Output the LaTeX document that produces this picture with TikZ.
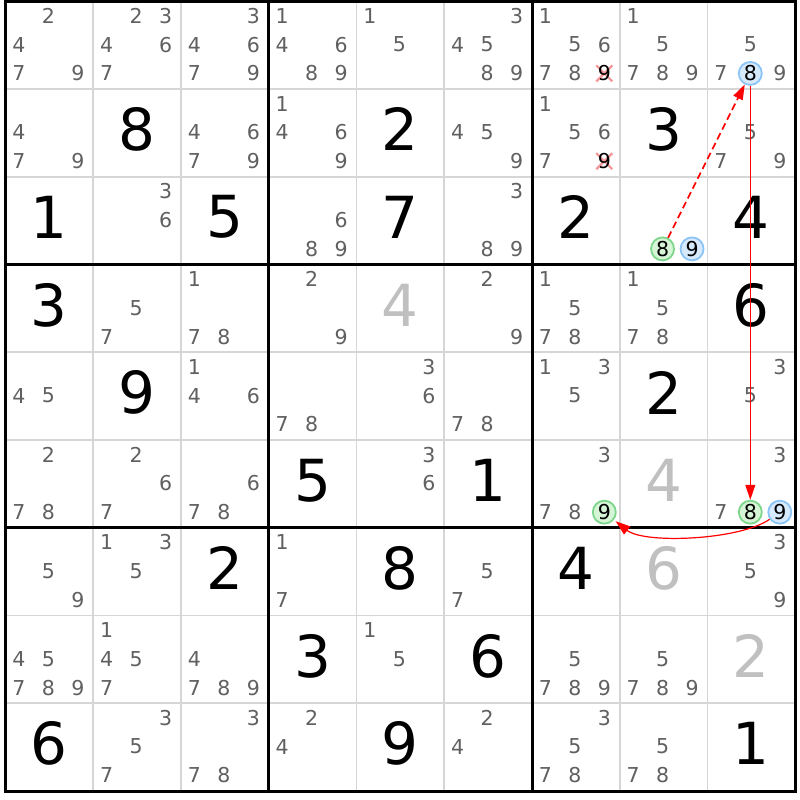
\documentclass[tikz,border=0pt]{standalone}
\usepackage{fontspec}
\setmainfont{DejaVu Sans}
\usetikzlibrary{arrows.meta}
\definecolor{candgray}{RGB}{96,96,96}
\definecolor{solvedgray}{RGB}{192,192,192}
\definecolor{gridgray}{RGB}{214,214,214}
\definecolor{bluefill}{RGB}{214,234,252}
\definecolor{bluedraw}{RGB}{140,196,246}
\definecolor{greenfill}{RGB}{214,244,214}
\definecolor{greendraw}{RGB}{126,214,140}
\definecolor{xpink}{RGB}{244,150,150}
\newcommand\SKpos[3]{%
  \pgfmathsetmacro\px{5.5+(#2-1)*87.75+13.3+29.5*mod(#3-1,3)}%
  \pgfmathsetmacro\py{1.3+(#1-1)*87.75+14.5+28.8*floor((#3-1)/3)}}
\tikzset{
  thinline/.style={draw=gridgray,line width=1.8pt},
  thickline/.style={draw=black,line width=3pt},
  bigdigit/.style={inner sep=0pt,text=black,font=\fontsize{58}{58}\selectfont},
  solved/.style={bigdigit,text=solvedgray},
  cand/.style={inner sep=0pt,text=candgray,font=\fontsize{20.5}{20.5}\selectfont},
  hlblue/.style={cand,circle,minimum size=23pt,line width=1.8pt,draw=bluedraw,fill=bluefill,text=black},
  hlgreen/.style={cand,circle,minimum size=23pt,line width=1.8pt,draw=greendraw,fill=greenfill,text=black},
  xmark/.style={draw=xpink,line width=2.2pt},
  chain/.style={draw=red,line width=1pt,-{Triangle[length=15pt,width=10pt]}},
  weak/.style={draw=red,line width=1.6pt,dash pattern=on 7pt off 4pt,-{Triangle[length=15pt,width=10pt]}},
}
\begin{document}
\begin{tikzpicture}[x=1pt,y=-1pt]
\useasboundingbox (0,0) rectangle (800,800);
\fill[white] (0,0) rectangle (800,800);
% thin grid lines
\foreach \i in {1,2,4,5,7,8}{
  \draw[thinline] ({5.5+\i*87.75},1.3) -- ({5.5+\i*87.75},790.5);
  \draw[thinline] (5.5,{1.3+\i*87.75}) -- (795.3,{1.3+\i*87.75});
}
% thick box lines
\foreach \i in {0,3,6,9}{
  \draw[thickline] ({5.5+\i*87.75},-0.2) -- ({5.5+\i*87.75},792);
  \draw[thickline] (4,{1.3+\i*87.75}) -- (796.8,{1.3+\i*87.75});
}
% givens
\foreach \r/\c/\d in {2/2/8,2/5/2,2/8/3,3/1/1,3/3/5,3/5/7,3/7/2,3/9/4,4/1/3,4/9/6,5/2/9,5/8/2,6/4/5,6/6/1,7/3/2,7/5/8,7/7/4,8/4/3,8/6/6,9/1/6,9/5/9,9/9/1}{
  \node[bigdigit] (g\r\c) at ({5.5+(\c-0.5)*87.75},{1.3+(\r-0.5)*87.75-3.5}) {\d};
}
% solved (gray)
\foreach \r/\c/\d in {4/5/4,6/8/4,7/8/6,8/9/2}{
  \node[solved] (g\r\c) at ({5.5+(\c-0.5)*87.75},{1.3+(\r-0.5)*87.75-3.5}) {\d};
}
% candidates
\foreach \r/\c/\L in {
  1/1/{2,4,7,9},1/2/{2,3,4,6,7},1/3/{3,4,6,7,9},1/4/{1,4,6,8,9},1/5/{1,5},
  1/6/{3,4,5,8,9},1/7/{1,5,6,7,8},1/8/{1,5,7,8,9},1/9/{5,7,9},
  2/1/{4,7,9},2/3/{4,6,7,9},2/4/{1,4,6,9},2/6/{4,5,9},2/7/{1,5,6,7},2/9/{5,7,9},
  3/2/{3,6},3/4/{6,8,9},3/6/{3,8,9},
  4/2/{5,7},4/3/{1,7,8},4/4/{2,9},4/6/{2,9},4/7/{1,5,7,8},4/8/{1,5,7,8},
  5/1/{4,5},5/3/{1,4,6},5/4/{7,8},5/5/{3,6},5/6/{7,8},5/7/{1,3,5},5/9/{3,5},
  6/1/{2,7,8},6/2/{2,6,7},6/3/{6,7,8},6/5/{3,6},6/7/{3,7,8},6/9/{3,7},
  7/1/{5,9},7/2/{1,3,5},7/4/{1,7},7/6/{5,7},7/9/{3,5,9},
  8/1/{4,5,7,8,9},8/2/{1,4,5,7},8/3/{4,7,8,9},8/5/{1,5},8/7/{5,7,8,9},8/8/{5,7,8,9},
  9/2/{3,5,7},9/3/{3,7,8},9/4/{2,4},9/6/{2,4},9/7/{3,5,7,8},9/8/{5,7,8}}{
  \foreach \d in \L {
    \SKpos{\r}{\c}{\d}
    \node[cand] (k\r\c\d) at (\px,\py) {\d};
  }
}
% eliminated candidates
\foreach \r/\c/\d in {1/7/9,2/7/9}{
  \SKpos{\r}{\c}{\d}
  \coordinate (x\r\c\d) at (\px,\py);
  \draw[xmark] ([shift={(-8,-8)}]x\r\c\d) -- ([shift={(8,8)}]x\r\c\d);
  \draw[xmark] ([shift={(-8,8)}]x\r\c\d) -- ([shift={(8,-8)}]x\r\c\d);
  \node[cand,text=black] (e\r\c\d) at (x\r\c\d) {\d};
}
% highlighted candidates
\SKpos{1}{9}{8}\node[hlblue] (h198) at (\px,\py) {8};
\SKpos{3}{8}{8}\node[hlgreen] (h388) at (\px,\py) {8};
\SKpos{3}{8}{9}\node[hlblue] (h389) at (\px,\py) {9};
\SKpos{6}{7}{9}\node[hlgreen] (h679) at (\px,\py) {9};
\SKpos{6}{9}{8}\node[hlgreen] (h698) at (\px,\py) {8};
\SKpos{6}{9}{9}\node[hlblue] (h699) at (\px,\py) {9};
% chain
\draw[weak] (h388) -- (h198);
\draw[chain] (h198) -- (h698);
\draw[chain,line width=1.2pt,shorten >=2pt] (h699) .. controls +(-40,28) and +(40,32) .. (h679);
\end{tikzpicture}
\end{document}
